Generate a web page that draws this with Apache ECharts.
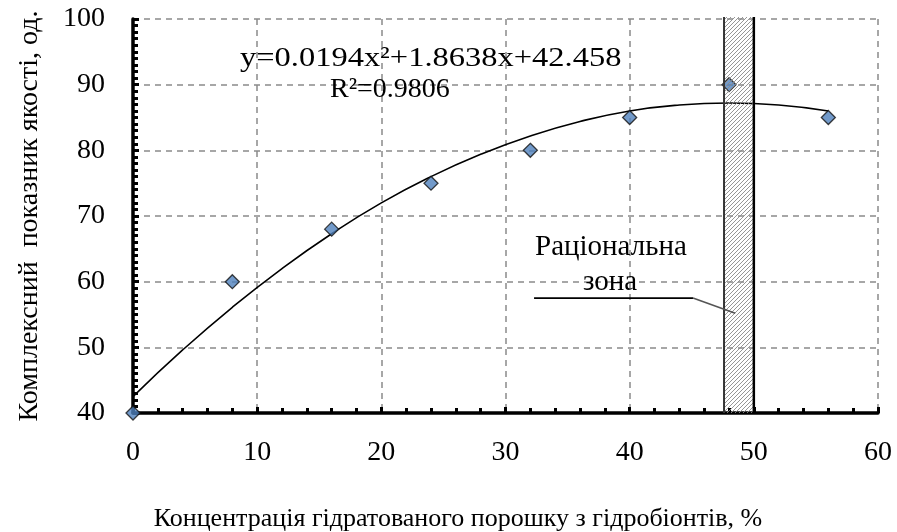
<!DOCTYPE html>
<html>
<head>
<meta charset="utf-8">
<script src="https://cdn.jsdelivr.net/npm/echarts@6/dist/echarts.min.js"></script>
<style>
  html, body { margin: 0; padding: 0; background: #fff; }
  #chart { width: 897px; height: 532px; }
</style>
</head>
<body>
<div id="chart"></div>
<script>
// ---- data ----
const concentration = [0, 8, 16, 24, 32, 40, 48, 56];
const qualityIndex = [40, 60, 68, 75, 80, 85, 90, 85];
// trend curve
const trendX = [0, 4, 8, 12, 16, 20, 24, 28, 32, 36, 40, 44, 48, 52, 56];
const trendY = [42.5, 49.6, 56.1, 62.0, 67.3, 72.0, 76.0, 79.4, 82.2, 84.4, 86.0, 86.9, 87.2, 86.9, 86.0];
// rational zone (x range)
const zoneRange = [47.6, 50.0];
const xTicks = [0, 10, 20, 30, 40, 50, 60];
const yTicks = [40, 50, 60, 70, 80, 90, 100];

const FONT = '"Liberation Serif", "DejaVu Serif", serif';

// hatch pattern
const pat = document.createElement('canvas');
pat.width = 4; pat.height = 4;
(function () {
  const c = pat.getContext('2d');
  c.strokeStyle = '#8a8a8a';
  c.lineWidth = 0.9;
  c.beginPath();
  c.moveTo(-1, 5); c.lineTo(5, -1);
  c.moveTo(-1, 1); c.lineTo(1, -1);
  c.moveTo(3, 5); c.lineTo(5, 3);
  c.stroke();
})();

const chart = echarts.init(document.getElementById('chart'), null, { renderer: 'canvas' });

const option = {
  backgroundColor: '#ffffff',
  animation: false,
  grid: { left: 133, right: 19, top: 19, bottom: 119 },
  xAxis: {
    type: 'value',
    min: xTicks[0], max: xTicks[xTicks.length - 1], interval: 10,
    axisLine: { show: true, onZero: false, lineStyle: { color: '#000', width: 3.5 } },
    axisTick: { show: true, inside: true, length: 6, lineStyle: { color: '#000', width: 3 } },
    minorTick: { show: true, splitNumber: 5, length: 5, lineStyle: { color: '#000', width: 3 } },
    splitLine: { show: true, lineStyle: { color: '#8a8a8a', width: 1.5, type: [6, 5] } },
    axisLabel: { fontFamily: FONT, fontSize: 28, color: '#000', margin: 26 }
  },
  yAxis: {
    type: 'value',
    min: yTicks[0], max: yTicks[yTicks.length - 1], interval: 10,
    axisLine: { show: true, onZero: false, lineStyle: { color: '#000', width: 3.5 } },
    axisTick: { show: true, inside: true, length: 6, lineStyle: { color: '#000', width: 3 } },
    minorTick: { show: true, splitNumber: 10, length: 5, lineStyle: { color: '#000', width: 3 } },
    splitLine: { show: true, lineStyle: { color: '#8a8a8a', width: 1.5, type: [6, 5] } },
    axisLabel: { fontFamily: FONT, fontSize: 28, color: '#000', margin: 28 }
  },
  series: [
    {
      name: 'trend',
      type: 'line',
      smooth: true,
      showSymbol: false,
      symbol: 'none',
      z: 3,
      lineStyle: { color: '#000', width: 1.6 },
      data: trendX.map((x, i) => [x, trendY[i]])
    },
    {
      name: 'points',
      type: 'scatter',
      symbol: 'diamond',
      symbolSize: 14,
      clip: false,
      z: 4,
      itemStyle: { color: '#4f81bd', borderColor: '#111', borderWidth: 1.3 },
      data: concentration.map((x, i) => [x, qualityIndex[i]])
    },
    {
      name: 'zone',
      type: 'custom',
      z: 5,
      clip: false,
      data: [[zoneRange[0], zoneRange[1]]],
      renderItem: function (params, api) {
        const p0 = api.coord([api.value(0), 100]);
        const p1 = api.coord([api.value(1), 40]);
        const top = p0[1] - 2;
        return {
          type: 'group',
          children: [
            { type: 'rect', shape: { x: p0[0], y: top, width: p1[0] - p0[0], height: p1[1] - top },
              style: { fill: { image: pat, repeat: 'repeat' }, stroke: null } },
            { type: 'line', shape: { x1: p0[0], y1: top, x2: p0[0], y2: p1[1] },
              style: { stroke: '#333', lineWidth: 2 } },
            { type: 'line', shape: { x1: p1[0], y1: top, x2: p1[0], y2: p1[1] },
              style: { stroke: '#000', lineWidth: 2.5 } }
          ]
        };
      }
    },
    {
      name: 'leader1',
      type: 'line',
      symbol: 'none',
      z: 6,
      lineStyle: { color: '#000', width: 1.6 },
      data: [[32.3, 57.5], [45.1, 57.5]]
    },
    {
      name: 'leader2',
      type: 'line',
      symbol: 'none',
      z: 6,
      lineStyle: { color: '#555', width: 1.6 },
      data: [[45.1, 57.5], [48.5, 55.2]]
    }
  ],
  graphic: [
    { type: 'text', x: 240, y: 59, scaleX: 1.16, z: 10,
      style: { text: 'y=0.0194x²+1.8638x+42.458', font: '28px ' + FONT, fill: '#000',
               align: 'left', verticalAlign: 'middle' } },
    { type: 'text', x: 330, y: 90, z: 10,
      style: { text: 'R²=0.9806', font: '28px ' + FONT, fill: '#000',
               align: 'left', verticalAlign: 'middle' } },
    { type: 'text', x: 535, y: 247, z: 10,
      style: { text: 'Раціональна', font: '29px ' + FONT, fill: '#000',
               align: 'left', verticalAlign: 'middle' } },
    { type: 'text', x: 583, y: 282, z: 10,
      style: { text: 'зона', font: '29px ' + FONT, fill: '#000',
               align: 'left', verticalAlign: 'middle' } },
    { type: 'text', x: 458, y: 519, z: 10,
      style: { text: 'Концентрація гідратованого порошку з гідробіонтів, %', font: '26px ' + FONT,
               fill: '#000', align: 'center', verticalAlign: 'middle' } },
    { type: 'text', x: 30, y: 216, rotation: Math.PI / 2, z: 10,
      style: { text: 'Комплексний  показник якості, од.', font: '28px ' + FONT,
               fill: '#000', align: 'center', verticalAlign: 'middle' } }
  ]
};
chart.setOption(option);
</script>
</body>
</html>
